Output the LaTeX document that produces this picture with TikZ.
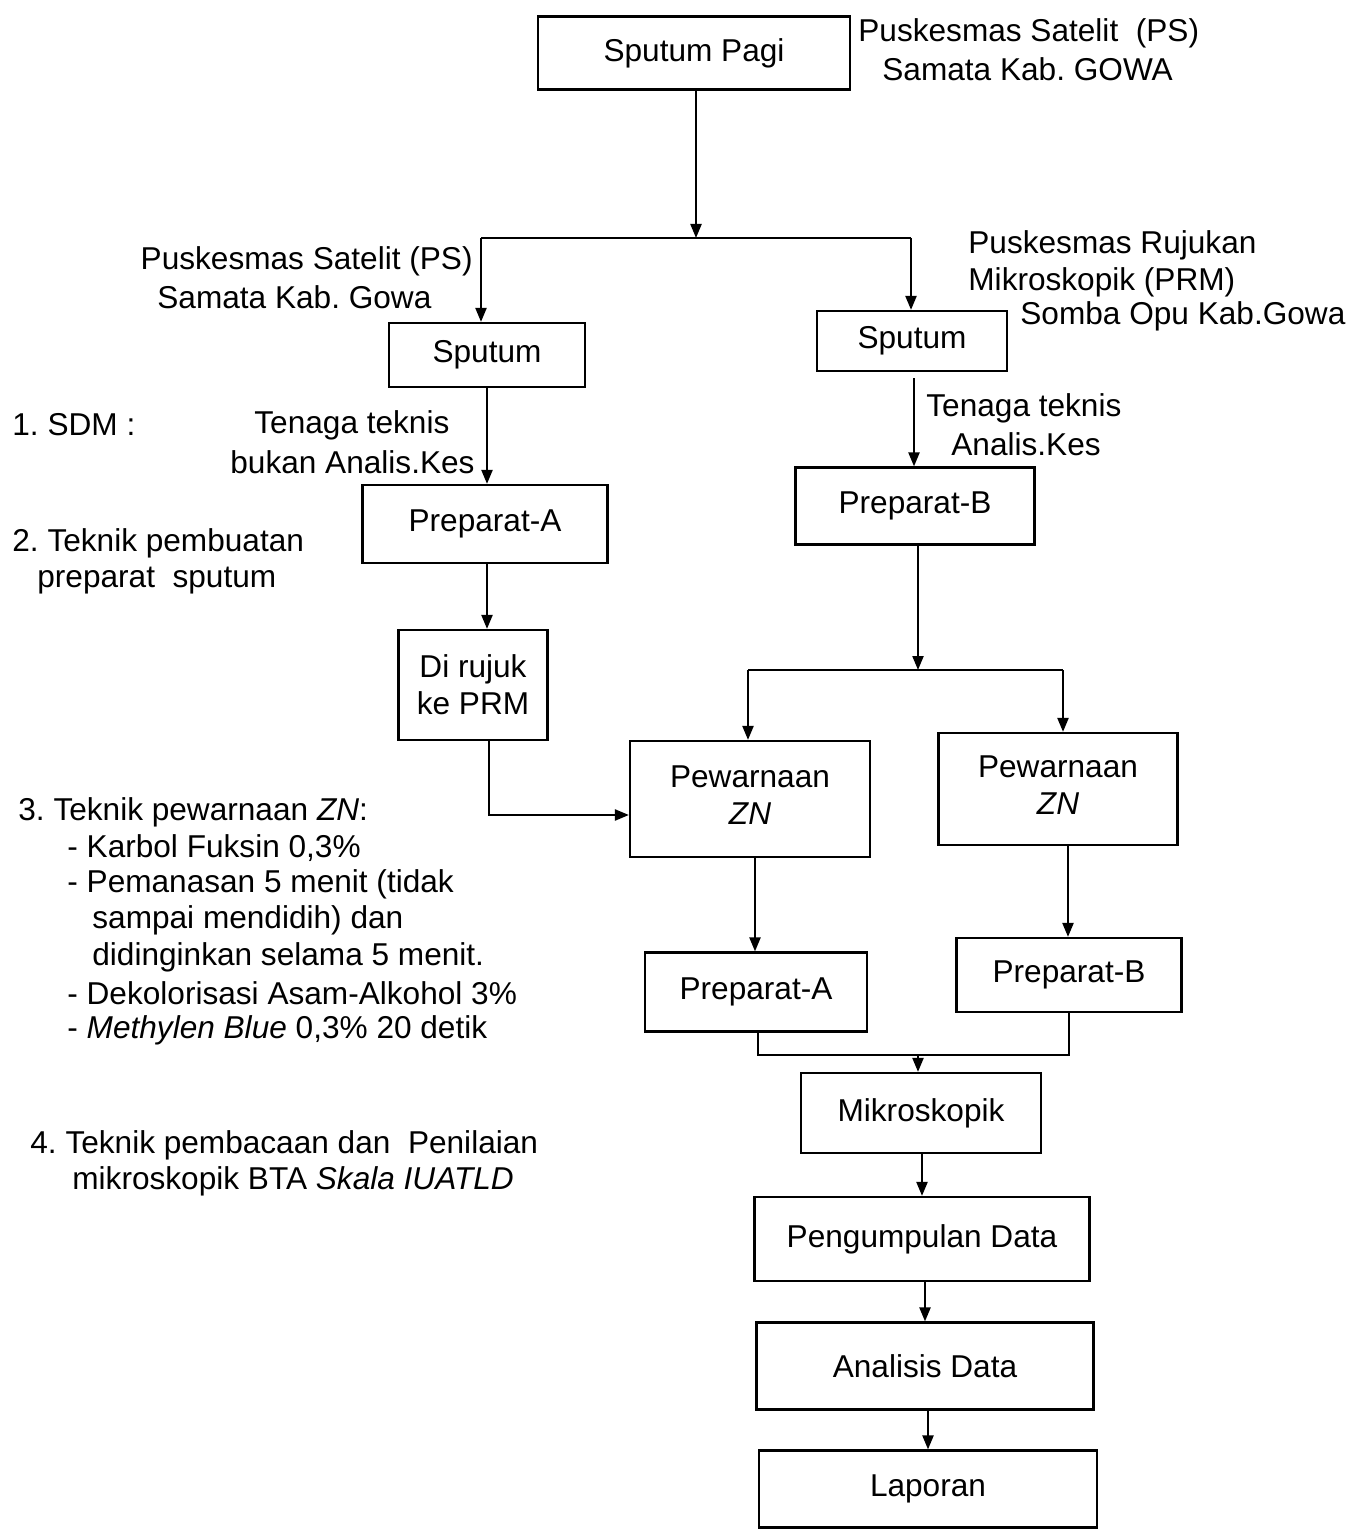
\documentclass[tikz,border=0pt]{standalone}
\usepackage{fontspec}
\setmainfont{Liberation Sans}
\usetikzlibrary{arrows.meta,calc}
\frenchspacing
\newcommand{\twoline}[2]{\raisebox{3.5pt}{\begin{tabular}{@{}c@{}}#1\\#2\end{tabular}}}
\begin{document}
\begin{tikzpicture}[x=0.5pt,y=-0.5pt,
  font=\fontsize{15.8}{18.5}\selectfont,
  box/.style={draw,line width=1.1pt,inner sep=2pt,align=center},
  txt/.style={inner sep=0pt,anchor=west},
  line/.style={line width=1.1pt},
  arr/.style={line width=1.1pt,-{Triangle[length=7pt,width=5.5pt]}}]
\useasboundingbox (0,0) rectangle (1364,1529);
% boxes
\node[box,minimum width=156pt,minimum height=36.5pt] (pagi) at (694,53) {Sputum Pagi};
\node[box,minimum width=98pt,minimum height=32pt] (sputA) at (487,355) {Sputum};
\node[box,minimum width=95pt,minimum height=30pt] (sputB) at (912,341) {Sputum};
\node[box,minimum width=122.5pt,minimum height=39pt] (prepA) at (485,524) {Preparat-A};
\node[box,minimum width=119.5pt,minimum height=38.5pt] (prepB) at (915,506) {Preparat-B};
\node[box,minimum width=74.5pt,minimum height=55pt] (rujuk) at (473,685) {Di rujuk\\ke PRM};
\node[box,minimum width=120pt,minimum height=58pt] (pewA) at (750,799) {\twoline{Pewarnaan}{\textit{ZN}}};
\node[box,minimum width=119.5pt,minimum height=56pt] (pewB) at (1058,789) {\twoline{Pewarnaan}{\textit{ZN}}};
\node[box,minimum width=111pt,minimum height=39.5pt] (prepAA) at (756,992) {Preparat-A};
\node[box,minimum width=112.5pt,minimum height=37pt] (prepBB) at (1069,975) {Preparat-B};
\node[box,minimum width=120pt,minimum height=40pt] (mikro) at (921,1113) {Mikroskopik};
\node[box,minimum width=167.5pt,minimum height=42pt] (peng) at (922,1239) {Pengumpulan Data};
\node[box,minimum width=168.5pt,minimum height=43.5pt] (anal) at (925,1366) {Analisis Data};
\node[box,minimum width=169pt,minimum height=38.5pt] (lapor) at (928,1489) {Laporan};
% labels
\node[txt] (t1) at (858,33) {Puskesmas Satelit\ \ (PS)};
\node[txt] (t2) at (882,69) {Samata Kab. GOWA};
\node[inner sep=0pt,anchor=east] (t3) at (473,261) {Puskesmas Satelit (PS)};
\node[txt] (t4) at (157,297) {Samata Kab. Gowa};
\node[txt] (t5) at (968,245) {Puskesmas Rujukan};
\node[txt] (t6) at (968,282) {Mikroskopik (PRM)};
\node[txt] (t7) at (1020,316) {Somba Opu Kab.Gowa};
\node[txt] (t8) at (12,425) {1. SDM :};
\node[txt] (t9) at (254,425) {Tenaga teknis};
\node[txt] (t10) at (230,462) {bukan Analis.Kes};
\node[txt] (t11) at (926,408) {Tenaga teknis};
\node[txt] (t12) at (951,444) {Analis.Kes};
\node[txt] (t13) at (12,543) {2. Teknik pembuatan};
\node[txt] (t14) at (37,581) {preparat\ \ sputum};
\node[txt] (t15) at (18,812) {3. Teknik pewarnaan \textit{ZN}:};
\node[txt] (t16) at (67,848) {- Karbol Fuksin 0,3\%};
\node[txt] (t17) at (67,884) {- Pemanasan 5 menit (tidak};
\node[txt] (t18) at (92,920) {sampai mendidih) dan};
\node[txt] (t19) at (92,957) {didinginkan selama 5 menit.};
\node[txt] (t20) at (67,993) {- Dekolorisasi Asam-Alkohol 3\%};
\node[txt] (t21) at (67,1030) {- \textit{Methylen Blue} 0,3\% 20 detik};
\node[txt] (t22) at (30,1145) {4. Teknik pembacaan dan\ \ Penilaian};
\node[txt] (t23) at (72,1181) {mikroskopik BTA \textit{Skala IUATLD}};
% connectors
\coordinate (split) at (696,238);
\coordinate (sL) at (481,238);
\coordinate (sR) at (911,238);
\draw[arr] (pagi.south -| split) -- (split);
\draw[line] (sL) -- (sR);
\draw[arr] (sL) -- (sL |- sputA.north);
\draw[arr] (sR) -- (sR |- sputB.north);
\draw[arr] (sputA.south) -- (prepA.north -| sputA.south);
\draw[arr] ($(sputB.south)+(2,6)$) -- (prepB.north -| {$(sputB.south)+(2,0)$});
\coordinate (aa) at (487,0);
\draw[arr] (prepA.south -| aa) -- (rujuk.north -| aa);
\coordinate (rb) at (489,815);
\draw[arr] (rujuk.south -| rb) -- (rb) -- (rb -| pewA.west);
\coordinate (split2) at (918,670);
\coordinate (s2L) at (748,670);
\coordinate (s2R) at (1063,670);
\draw[arr] (prepB.south -| split2) -- (split2);
\draw[line] (s2L) -- (s2R);
\draw[arr] (s2L) -- (s2L |- pewA.north);
\draw[arr] (s2R) -- (s2R |- pewB.north);
\coordinate (pa) at (755,0);
\coordinate (pb) at (1068,0);
\draw[arr] (pewA.south -| pa) -- (prepAA.north -| pa);
\draw[arr] (pewB.south -| pb) -- (prepBB.north -| pb);
\coordinate (m) at (918,1055);
\draw[line] (prepAA.south -| {(758,0)}) |- (m) -| (prepBB.south -| {(1069,0)});
\draw[arr] (m) -- (mikro.north -| m);
\draw[arr] (mikro.south -| peng.north) -- (peng.north);
\draw[arr] (peng.south -| anal.north) -- (anal.north);
\draw[arr] (anal.south -| lapor.north) -- (lapor.north);
\end{tikzpicture}
\end{document}
